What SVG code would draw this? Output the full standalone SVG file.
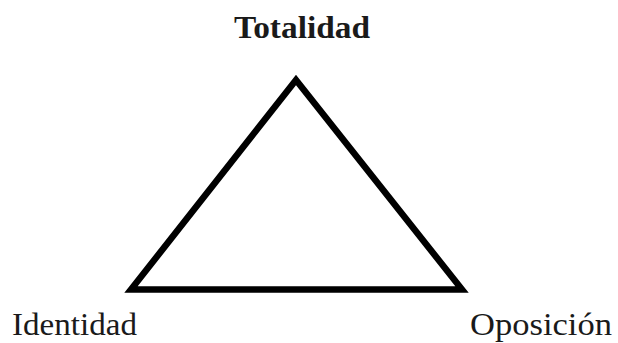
<svg xmlns="http://www.w3.org/2000/svg" width="618" height="343" viewBox="0 0 618 343">
<style>
.lbl{font-family:"Liberation Serif","Times New Roman",serif;fill:#1a1a1a;font-size:32px}
.tri{fill:none;stroke:#000;stroke-width:6.5;stroke-linejoin:miter;stroke-miterlimit:10}
</style>
<rect width="618" height="343" fill="#fff"/>
<g id="connectors">
<path class="tri" d="M296,80 L462,289.5 L131,289.5 Z"/>
</g>
<g id="totalidad"><text class="lbl" x="234" y="38" font-weight="600" textLength="136" lengthAdjust="spacingAndGlyphs">Totalidad</text></g>
<g id="identidad"><text class="lbl" x="12" y="335" textLength="125" lengthAdjust="spacingAndGlyphs">Identidad</text></g>
<g id="oposicion"><text class="lbl" x="470" y="335" textLength="142" lengthAdjust="spacingAndGlyphs">Oposición</text></g>
</svg>
